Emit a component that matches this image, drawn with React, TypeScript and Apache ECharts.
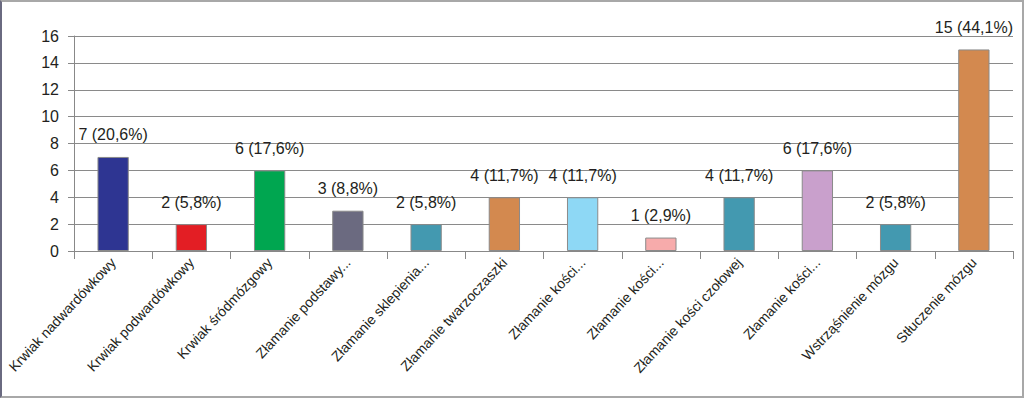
import React, { useEffect, useRef } from "react";
import * as echarts from "echarts";

const categories = [
  "Krwiak nadwardówkowy",
  "Krwiak podwardówkowy",
  "Krwiak śródmózgowy",
  "Złamanie podstawy...",
  "Złamanie sklepienia...",
  "Złamanie twarzoczaszki",
  "Złamanie kości...",
  "Złamanie kości...",
  "Złamanie kości czołowej",
  "Złamanie kości...",
  "Wstrząśnienie mózgu",
  "Stłuczenie mózgu",
];
const values = [7, 2, 6, 3, 2, 4, 4, 1, 4, 6, 2, 15];
const percents = ["20,6", "5,8", "17,6", "8,8", "5,8", "11,7", "11,7", "2,9", "11,7", "17,6", "5,8", "44,1"];
const colors = [
  "#2e3592", "#e31e24", "#00a650", "#6b6a80", "#4399b0", "#d3894f",
  "#8ed8f5", "#f7abab", "#4399b0", "#c9a0cc", "#4399b0", "#d3894f",
];
const yTicks = [0, 2, 4, 6, 8, 10, 12, 14, 16];

const FONT = "'Liberation Sans', Arial, Helvetica, sans-serif";

export default function App() {
  const ref = useRef<HTMLDivElement>(null);
  useEffect(() => {
    if (!ref.current) return;
    const chart = echarts.init(ref.current, null, { renderer: "svg" });
    chart.setOption({
      animation: false,
      grid: { left: 74, right: 11, top: 36, bottom: 147, containLabel: false, outerBoundsMode: "none" },
      xAxis: {
        type: "category",
        data: categories,
        axisLine: { lineStyle: { color: "#888", width: 1 } },
        axisTick: { show: true, alignWithLabel: false, length: 8, lineStyle: { color: "#888" } },
        axisLabel: {
          rotate: 47,
          interval: 0,
          margin: 9,
          color: "#231f20",
          fontFamily: FONT,
          fontSize: 14,
        },
      },
      yAxis: {
        type: "value",
        min: yTicks[0],
        max: yTicks[yTicks.length - 1],
        interval: 2,
        axisLine: { show: true, lineStyle: { color: "#888", width: 1 } },
        axisTick: { show: true, length: 6, lineStyle: { color: "#888" } },
        splitLine: { show: true, lineStyle: { color: "#8a8a8a", width: 1 } },
        axisLabel: {
          margin: 15,
          color: "#231f20",
          fontFamily: FONT,
          fontSize: 16,
        },
      },
      series: [
        {
          type: "bar",
          barWidth: "40%",
          data: values.map((v, i) => ({
            value: v,
            itemStyle: { color: colors[i], borderColor: "#8a8a8a", borderWidth: 1 },
          })),
          label: {
            show: true,
            position: "top",
            distance: 14,
            color: "#231f20",
            fontFamily: FONT,
            fontSize: 16,
            formatter: (p: any) => `${values[p.dataIndex]} (${percents[p.dataIndex]}%)`,
          },
        },
      ],
    });
    return () => chart.dispose();
  }, []);
  return (
    <div
      style={{
        position: "fixed",
        left: 0,
        top: 0,
        width: 1024,
        height: 398,
        boxSizing: "border-box",
        borderTop: "2px solid #a8a8a8",
        borderLeft: "2px solid #6a6a80",
        borderRight: "2px solid #a8a8a8",
        borderBottom: "2px solid #a8a8a8",
        background: "#fff",
      }}
    >
      <div ref={ref} style={{ position: "absolute", left: -2, top: -2, width: 1024, height: 398 }} />
    </div>
  );
}
